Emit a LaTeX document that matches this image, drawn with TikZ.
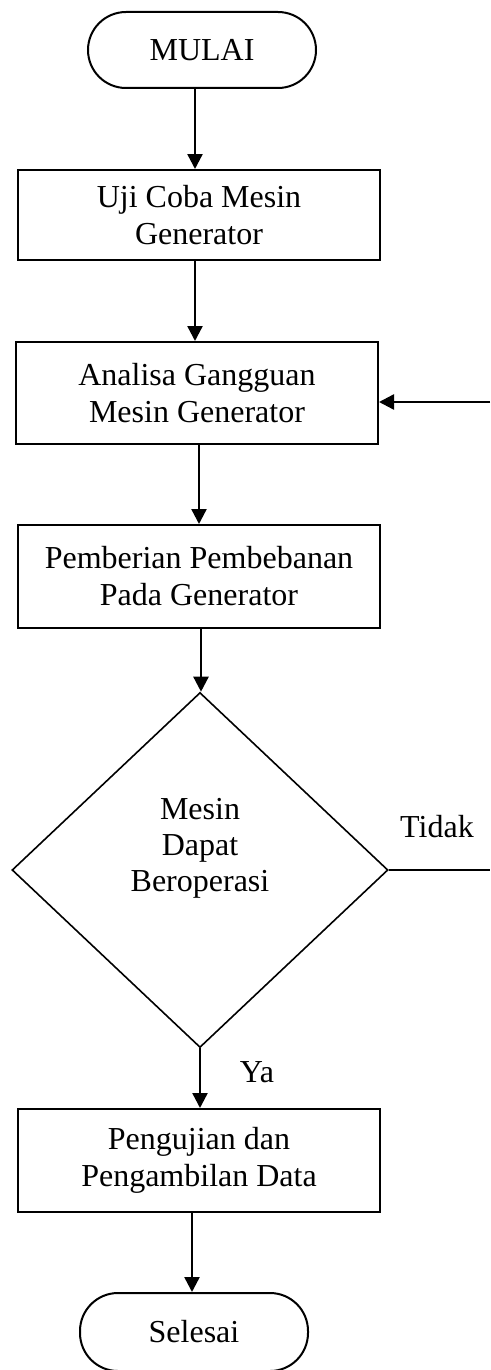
\documentclass[tikz,border=0pt]{standalone}
\usepackage{fontspec}
\setmainfont{Liberation Serif}
\usetikzlibrary{arrows.meta,shapes.geometric}
\begin{document}
\begin{tikzpicture}[x=1pt,y=-1pt,
  every node/.style={font=\fontsize{32}{37}\selectfont},
  term/.style={draw=black,line width=2pt,rounded corners=38pt,minimum width=228pt,minimum height=76pt,inner sep=0pt},
  procbox/.style={draw=black,line width=2pt,minimum width=362pt,inner sep=0pt,align=center},
  decision/.style={draw=black,line width=1.6pt,diamond,minimum width=376pt,minimum height=355pt,inner sep=0pt,aspect=1.06},
  arr/.style={line width=2.4pt,-{Triangle[length=15pt,width=15pt]}},
  plain/.style={line width=1.6pt}]
\useasboundingbox (0,0) rectangle (490,1370);
\node[term] (mulai) at (202,50) {MULAI};
\node[procbox,minimum height=90pt] (b1) at (199,215) {Uji Coba Mesin\\Generator};
\node[procbox,minimum height=102pt] (b2) at (197,393) {Analisa Gangguan\\Mesin Generator};
\node[procbox,minimum height=103pt] (b3) at (199,576.5) {Pemberian Pembebanan\\Pada Generator};
\node[decision,label={[align=center,yshift=22pt,font=\fontsize{32}{36}\selectfont]center:Mesin\\Dapat\\Beroperasi}] (dec) at (200,870) {};
\node[procbox,minimum height=103pt] (b4) at (199,1160.5) {Pengujian dan\\Pengambilan Data};
\node[term,minimum height=78pt] (selesai) at (194,1332) {Selesai};
\node (tidak) at (437,827) {Tidak};
\node (ya) at (257,1072) {Ya};
\coordinate (fbin) at (490,402);
\coordinate (fbout) at (490,870);
\draw[arr] (mulai.south -| 195,0) -- (b1.north -| 195,0);
\draw[arr] (b1.south -| 195,0) -- (b2.north -| 195,0);
\draw[arr] (b2.south -| 199,0) -- (b3.north -| 199,0);
\draw[arr] (b3.south -| 201,0) -- (dec.north -| 201,0);
\draw[arr] (dec.south) -- (b4.north -| dec.south);
\draw[arr] (b4.south -| 192,0) -- (selesai.north -| 192,0);
\draw[plain] (dec.east) -- (fbout);
\draw[arr] (fbin) -- (fbin -| b2.east);
\end{tikzpicture}
\end{document}
